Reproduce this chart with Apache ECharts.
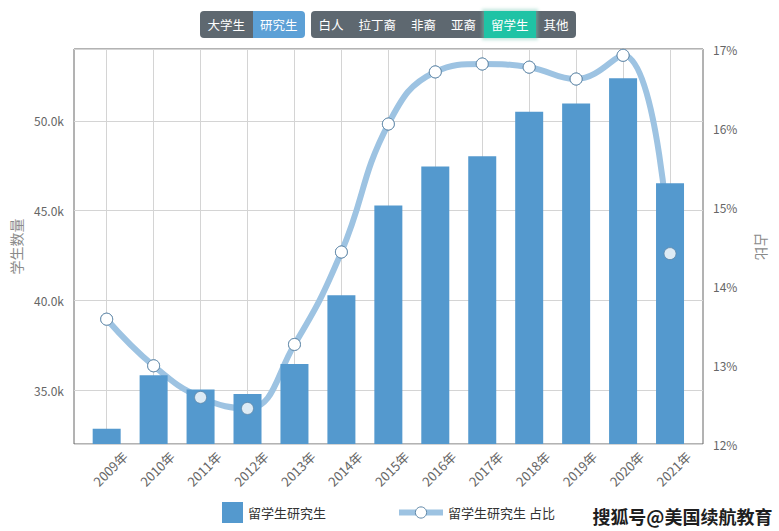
<!DOCTYPE html>
<html>
<head>
<meta charset="utf-8">
<script src="https://cdn.jsdelivr.net/npm/echarts@6/dist/echarts.min.js"></script>
<style>
  html, body { margin: 0; padding: 0; background: #fff; }
  #wrap { position: relative; width: 779px; height: 531px; overflow: hidden; }
  #chart { position: absolute; left: 0; top: 0; width: 779px; height: 531px; }
  .grp { position: absolute; top: 11px; height: 27px; display: flex; border-radius: 4px; overflow: visible; }
  .btn { height: 27px; line-height: 27px; padding: 0 7.5px; font-family: "Noto Sans CJK SC", "Noto Sans", sans-serif;
         font-size: 12.5px; color: #fff; background: #5e6870; white-space: nowrap; }
  .first { border-radius: 4px 0 0 4px; }
  .last { border-radius: 0 4px 4px 0; }
  .blue { background: #5ca0d6; }
  .teal { background: #1fc3a5; box-shadow: 0 0 3px 2px rgba(120, 200, 180, 0.45); position: relative; z-index: 2; }
</style>
</head>
<body>
<div id="wrap">
  <div id="chart"></div>
  <div class="grp" style="left:200px;">
    <div class="btn first">大学生</div><div class="btn blue last">研究生</div>
  </div>
  <div class="grp" style="left:311px;">
    <div class="btn first">白人</div><div class="btn">拉丁裔</div><div class="btn">非裔</div><div class="btn">亚裔</div><div class="btn teal">留学生</div><div class="btn last">其他</div>
  </div>
</div>
<script>
const years = ['2009年','2010年','2011年','2012年','2013年','2014年','2015年','2016年','2017年','2018年','2019年','2020年','2021年'];
const students = [32850, 35830, 35040, 34780, 36460, 40280, 45280, 47460, 48020, 50500, 50960, 52370, 46520];
const shares = [13.58, 12.99, 12.59, 12.45, 13.26, 14.43, 16.05, 16.71, 16.81, 16.77, 16.62, 16.92, 14.41];
const barName = '留学生研究生';
const lineName = '留学生研究生 占比';
const leftName = '学生数量';
const rightName = '占比';
const watermark = '搜狐号@美国续航教育';

const FONT = '"Noto Sans CJK SC", "Noto Sans", sans-serif';
const BAR = '#5499ce';
const LINE = '#9dc3e2';
const MARK = { color: '#fff', borderColor: '#5f87a8', borderWidth: 1 };

const chart = echarts.init(document.getElementById('chart'), null, { renderer: 'svg' });
const top0 = 49, bottom0 = 87;
chart.setOption({
  animation: false,
  textStyle: { fontFamily: FONT },
  grid: [
    { left: 74, right: 76, top: top0, bottom: bottom0, show: true, borderColor: '#666', borderWidth: 1, backgroundColor: 'transparent' },
    { left: 83.2, right: 85.5, top: top0, bottom: bottom0 },
    { left: 125, right: 90.7, top: top0, bottom: bottom0 },
    { left: 106.7, right: 109, top: top0, bottom: bottom0 }
  ],
  xAxis: [
    { gridIndex: 0, type: 'value', min: 0, max: 1, show: false },
    { gridIndex: 1, type: 'category', data: years, boundaryGap: true,
      axisLine: { show: false }, axisTick: { show: false }, axisLabel: { show: false }, splitLine: { show: false } },
    { gridIndex: 2, type: 'category', data: years, boundaryGap: false,
      axisLine: { show: false }, axisTick: { show: false }, splitLine: { show: false },
      axisLabel: { show: true, rotate: 45, margin: 10, color: '#666', fontSize: 13, fontFamily: FONT, interval: 0 } },
    { gridIndex: 3, type: 'category', data: years, boundaryGap: false,
      axisLine: { show: false }, axisTick: { show: false }, axisLabel: { show: false },
      splitLine: { show: true, interval: 0, lineStyle: { color: '#d4d4d4', width: 1 } } }
  ],
  yAxis: [
    { gridIndex: 0, type: 'value', min: 32000, max: 54000, position: 'left',
      axisLine: { show: false }, axisTick: { show: false },
      splitLine: { show: true, lineStyle: { color: '#d4d4d4', width: 1 } },
      axisLabel: { color: '#666', fontSize: 12, margin: 10, showMinLabel: false, showMaxLabel: false,
        formatter: v => (v / 1000).toFixed(1) + 'k' },
      name: leftName, nameLocation: 'middle', nameGap: 50,
      nameTextStyle: { color: '#8a8a8a', fontSize: 14, fontFamily: FONT } },
    { gridIndex: 0, type: 'value', min: 12, max: 17, interval: 1, position: 'right',
      axisLine: { show: false }, axisTick: { show: false }, splitLine: { show: false },
      axisLabel: { color: '#666', fontSize: 12, margin: 10, formatter: '{value}%' },
      name: rightName, nameLocation: 'middle', nameGap: 52, nameRotate: -90,
      nameTextStyle: { color: '#8a8a8a', fontSize: 14, fontFamily: FONT } },
    { gridIndex: 1, type: 'value', min: 32000, max: 54000, show: false },
    { gridIndex: 1, type: 'value', min: 12, max: 17, show: false },
    { gridIndex: 2, type: 'value', min: 0, max: 1, show: false },
    { gridIndex: 3, type: 'value', min: 0, max: 1, show: false }
  ],
  legend: [
    { data: [{ name: barName, icon: 'rect' }], left: 222, top: 502, padding: 0, itemWidth: 21, itemHeight: 21,
      textStyle: { color: '#333', fontSize: 13, fontFamily: FONT } },
    { data: [lineName], left: 396, top: 506, padding: 0, itemWidth: 44, itemHeight: 14,
      lineStyle: { width: 6, color: LINE }, itemStyle: MARK,
      textStyle: { color: '#333', fontSize: 13, fontFamily: FONT } }
  ],
  graphic: [
    { type: 'text', right: 5, top: 505, z: 100,
      style: { text: watermark, font: 'bold 18px ' + FONT, fill: '#1e1e1e', stroke: '#fff', lineWidth: 3 } }
  ],
  series: [
    { name: barName, type: 'bar', xAxisIndex: 1, yAxisIndex: 2, data: students, barWidth: 28, clip: true, z: 2,
      itemStyle: { color: BAR } },
    { name: lineName, type: 'line', xAxisIndex: 1, yAxisIndex: 3, data: shares, smooth: 0.45, clip: false, z: 1,
      lineStyle: { color: LINE, width: 6 }, symbol: 'circle', symbolSize: 12, showSymbol: true,
      itemStyle: MARK },
    { name: lineName, type: 'scatter', xAxisIndex: 1, yAxisIndex: 3, data: shares, clip: false, z: 3,
      symbol: 'circle', symbolSize: 12, itemStyle: MARK }
  ]
});
</script>
</body>
</html>
